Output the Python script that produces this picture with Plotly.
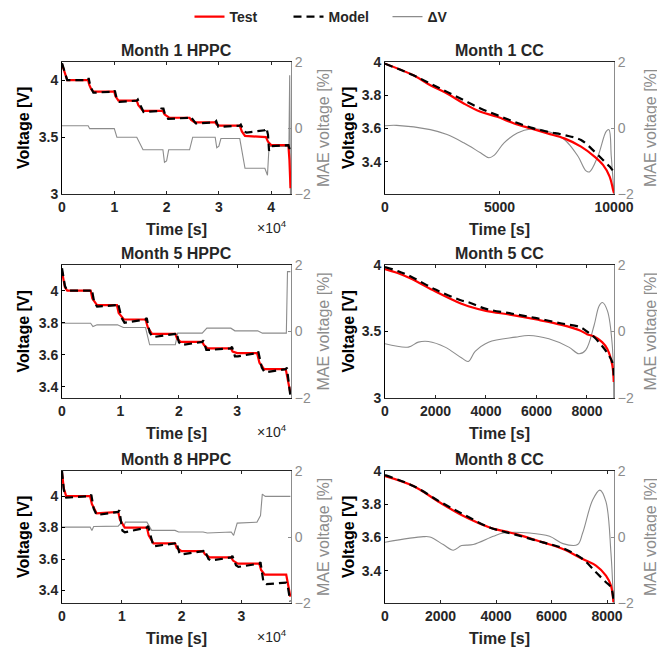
import plotly.graph_objects as go

# ------------------------------------------------------------------ data
panel_titles = ["Month 1 HPPC", "Month 1 CC", "Month 5 HPPC", "Month 5 CC", "Month 8 HPPC", "Month 8 CC"]

# Month 1 HPPC
m1h_test_t = [0, 800, 1000, 5000, 5200, 5600, 6000, 10000, 10200, 10800, 14300, 14600, 15500, 19300, 19600,
              20500, 24400, 24700, 25400, 29300, 29600, 30200, 34000, 34400, 35000, 39000, 39400, 40000,
              43300, 43500, 43700]
m1h_test_v = [4.14, 4.02, 4.00, 4.00, 3.96, 3.92, 3.90, 3.90, 3.86, 3.82, 3.82, 3.78, 3.73, 3.73, 3.70,
              3.67, 3.67, 3.65, 3.63, 3.63, 3.61, 3.60, 3.60, 3.55, 3.51, 3.50, 3.46, 3.43,
              3.43, 3.30, 3.05]
m1h_model_t = [0, 800, 1000, 5000, 5100, 5400, 5800, 6000, 10000, 10100, 10500, 11000, 14300, 14500, 15200,
               15600, 18800, 19000, 19400, 19700, 20300, 24400, 24600, 25200, 25600, 29300, 29500, 29900,
               30300, 34000, 34200, 34800, 35300, 38800, 39100, 39400, 39600, 40000, 43300, 43500, 43700]
m1h_model_v = [4.15, 4.02, 4.00, 4.00, 4.02, 3.95, 3.90, 3.89, 3.90, 3.91, 3.83, 3.81, 3.82, 3.83, 3.76,
               3.72, 3.73, 3.75, 3.75, 3.70, 3.66, 3.67, 3.68, 3.64, 3.62, 3.63, 3.64, 3.59,
               3.59, 3.60, 3.61, 3.55, 3.54, 3.56, 3.58, 3.52, 3.38, 3.42, 3.43, 3.40, 3.36]
m1h_dv_t = [0, 5000, 5300, 10000, 10500, 14300, 15500, 19300, 19600, 20000, 20400, 24400, 25000, 29300,
            29600, 30000, 30400, 34000, 35000, 38800, 39300, 39600, 43400, 43550, 43700]
m1h_dv_v = [0.07, 0.07, -0.02, -0.02, -0.28, -0.28, -0.66, -0.66, -1.04, -1.0, -0.66, -0.66, -0.28, -0.28,
            -0.6, -0.55, -0.32, -0.32, -1.22, -1.22, -1.43, -0.56, -0.56, 1.6, -2.0]

# Month 1 CC
m1c_t = [0, 1240, 1980, 2710, 3440, 4170, 4900, 5640, 6370, 7100, 7830, 8560, 9150, 9520, 9810, 9960, 10000]
m1c_test_v = [3.99, 3.92, 3.86, 3.81, 3.75, 3.70, 3.67, 3.63, 3.60, 3.57, 3.54, 3.49, 3.43, 3.38, 3.31, 3.23, 3.21]
m1c_model_v = [3.99, 3.92, 3.87, 3.82, 3.77, 3.72, 3.68, 3.64, 3.605, 3.58, 3.56, 3.53, 3.46, 3.41, 3.37, 3.345, 3.34]
m1c_dv_t = [0, 510, 1980, 2710, 3440, 4170, 4540, 4760, 5200, 5780, 6370, 7100, 7830, 8420, 8780, 8930,
            9300, 9660, 9780, 9880, 10000]
m1c_dv_v = [0.07, 0.08, -0.05, -0.2, -0.45, -0.75, -0.9, -0.83, -0.45, -0.15, -0.03, -0.1, -0.35, -0.85,
            -1.3, -1.33, -0.85, -0.1, -0.05, -0.85, -2.0]

# Month 5 HPPC
m5h_test_t = [0, 500, 900, 4900, 5200, 6000, 9400, 9700, 10600, 14300, 14700, 15400, 19400, 19700, 20300,
              24000, 24300, 24900, 28900, 29200, 30000, 33400, 33800, 34600, 38300, 38700, 39100]
m5h_test_v = [4.12, 4.02, 4.00, 4.00, 3.95, 3.91, 3.91, 3.86, 3.82, 3.82, 3.77, 3.73, 3.73, 3.70, 3.68,
              3.68, 3.66, 3.64, 3.64, 3.62, 3.61, 3.61, 3.55, 3.51, 3.51, 3.44, 3.36]
m5h_model_t = [0, 500, 900, 4900, 5100, 5500, 6000, 9400, 9600, 10200, 10700, 14300, 14500, 15000, 15500,
               19400, 19600, 20000, 20400, 24000, 24200, 24700, 25100, 28900, 29100, 29600, 30100, 33400,
               33600, 34200, 34700, 38300, 38500, 39000, 39100]
m5h_model_v = [4.14, 4.03, 4.00, 4.00, 4.01, 3.93, 3.90, 3.91, 3.92, 3.83, 3.80, 3.82, 3.83, 3.74, 3.71,
               3.73, 3.74, 3.68, 3.66, 3.68, 3.69, 3.63, 3.63, 3.64, 3.65, 3.59, 3.59, 3.61,
               3.62, 3.52, 3.49, 3.51, 3.52, 3.37, 3.34]
m5h_dv_t = [0, 4900, 5300, 6000, 9500, 10500, 14300, 15000, 19400, 19800, 24000, 24800, 28900, 29600,
            33500, 34300, 38400, 38600, 39100]
m5h_dv_v = [0.25, 0.25, 0.15, 0.2, 0.2, 0.12, 0.12, -0.4, -0.4, -0.05, -0.05, 0.1, 0.1, 0.02,
            0.02, -0.05, -0.05, 1.8, 1.8]

# Month 5 CC
m5c_t = [0, 500, 1000, 2000, 3000, 3300, 4000, 5000, 6000, 7000, 7700, 8000, 8300, 8600, 8800, 9000, 9060]
m5c_test_v = [3.97, 3.94, 3.90, 3.80, 3.71, 3.69, 3.655, 3.625, 3.59, 3.55, 3.51, 3.48, 3.46, 3.42, 3.37, 3.25, 3.12]
m5c_model_v = [3.985, 3.955, 3.915, 3.815, 3.735, 3.72, 3.67, 3.635, 3.60, 3.56, 3.535, 3.50, 3.455, 3.39, 3.34, 3.27, 3.17]
m5c_dv_t = [0, 925, 1320, 1720, 2380, 3040, 3300, 3570, 4100, 5170, 5700, 6490, 7280, 7680, 7950, 8280,
            8480, 8610, 8810, 9000, 9060]
m5c_dv_v = [-0.37, -0.47, -0.32, -0.3, -0.47, -0.8, -0.9, -0.6, -0.32, -0.17, -0.12, -0.22, -0.47, -0.67,
            -0.56, 0.18, 0.77, 0.87, 0.62, -0.4, -2.0]

# Month 8 HPPC
m8h_test_t = [0, 300, 700, 4700, 5000, 5800, 9400, 9700, 10500, 14200, 14500, 15300, 18900, 19200, 20000,
              23600, 23900, 24700, 28300, 28600, 29400, 33000, 33300, 33900, 37500, 37800, 38200]
m8h_test_v = [4.15, 4.05, 4.00, 4.00, 3.95, 3.89, 3.90, 3.85, 3.80, 3.80, 3.75, 3.70, 3.70, 3.67, 3.65,
              3.65, 3.63, 3.61, 3.61, 3.59, 3.57, 3.57, 3.53, 3.50, 3.50, 3.43, 3.36]
m8h_model_t = [0, 300, 700, 4700, 4900, 5300, 5800, 9400, 9600, 10100, 10500, 14200, 14400, 15000, 15300,
               18900, 19100, 19700, 20200, 23600, 23800, 24500, 24900, 28300, 28500, 29100, 29500, 33000,
               33200, 33700, 34200, 37500, 37700, 38000, 38200]
m8h_model_v = [4.16, 4.04, 3.99, 4.00, 4.01, 3.92, 3.88, 3.90, 3.91, 3.78, 3.77, 3.80, 3.81, 3.71, 3.68,
               3.70, 3.71, 3.63, 3.63, 3.65, 3.66, 3.60, 3.59, 3.61, 3.62, 3.56, 3.55, 3.57,
               3.58, 3.45, 3.44, 3.45, 3.44, 3.37, 3.33]
m8h_dv_t = [0, 4700, 5000, 5300, 9400, 10000, 10300, 10600, 14200, 15000, 18900, 19500, 23600, 24300,
            28300, 28700, 29300, 32600, 33200, 33500, 34000, 38200]
m8h_dv_v = [0.3, 0.3, 0.2, 0.32, 0.33, 0.45, 0.3, 0.45, 0.45, 0.2, 0.2, 0.15, 0.15, 0.12,
            0.15, 0.05, 0.42, 0.45, 0.65, 1.3, 1.23, 1.23]

# Month 8 CC
m8c_t = [0, 1020, 1980, 2810, 3770, 4730, 5690, 6410, 7120, 7600, 7960, 8140, 8230]
m8c_test_v = [3.97, 3.91, 3.81, 3.73, 3.66, 3.62, 3.57, 3.53, 3.47, 3.43, 3.37, 3.31, 3.21]
m8c_model_v = [3.975, 3.91, 3.815, 3.74, 3.66, 3.615, 3.57, 3.535, 3.47, 3.39, 3.33, 3.30, 3.22]
m8c_dv_t = [0, 1380, 1620, 2100, 2460, 2760, 3180, 3900, 4260, 5210, 5930, 6410, 6940, 7120, 7480, 7740,
            7960, 8140, 8230]
m8c_dv_v = [-0.16, 0.01, 0.0, -0.23, -0.4, -0.26, -0.23, 0.02, 0.12, 0.12, 0.02, -0.2, -0.23, 0.12, 1.12,
            1.42, 1.07, -0.48, -2.0]

# tick values / labels
hppc_xticks = [0, 10000, 20000, 30000, 40000]
hppc_xticktext = ["0", "1", "2", "3", "4"]
cc1_xticks = [0, 5000, 10000]
cc1_xticktext = ["0", "5000", "10000"]
cc58_xticks = [0, 2000, 4000, 6000, 8000]
cc58_xticktext = ["0", "2000", "4000", "6000", "8000"]
mae_ticks = [-2, 0, 2]

# ------------------------------------------------------------------ styling
OFF = 8                       # page offset of the plot div inside the browser window
W, H = 665 - OFF, 650 - OFF
FONT = "Liberation Sans, Arial, sans-serif"
RED = "#ff0000"
BLACK = "#000000"
GREY = "#8c8c8c"
AXC = "#262626"

col_px = [(62, 291), (385, 614)]
row_px = [(62, 194), (265, 398), (471, 603)]


def px_x(X):
    return (X - OFF) / W


def px_y(Y):
    return 1 - (Y - OFF) / H


panels = [
    dict(test=(m1h_test_t, m1h_test_v), model=(m1h_model_t, m1h_model_v), dv=(m1h_dv_t, m1h_dv_v),
         xr=[0, 43800], xt=hppc_xticks, xtt=hppc_xticktext, yr=[3.0, 4.16], yt=[3, 3.5, 4], sci=True, cc=False),
    dict(test=(m1c_t, m1c_test_v), model=(m1c_t, m1c_model_v), dv=(m1c_dv_t, m1c_dv_v),
         xr=[0, 10000], xt=cc1_xticks, xtt=cc1_xticktext, yr=[3.205, 4.0], yt=[3.4, 3.6, 3.8, 4], sci=False, cc=True),
    dict(test=(m5h_test_t, m5h_test_v), model=(m5h_model_t, m5h_model_v), dv=(m5h_dv_t, m5h_dv_v),
         xr=[0, 39200], xt=hppc_xticks[:4], xtt=hppc_xticktext[:4], yr=[3.33, 4.16], yt=[3.4, 3.6, 3.8, 4], sci=True, cc=False),
    dict(test=(m5c_t, m5c_test_v), model=(m5c_t, m5c_model_v), dv=(m5c_dv_t, m5c_dv_v),
         xr=[0, 9070], xt=cc58_xticks, xtt=cc58_xticktext, yr=[3.0, 4.0], yt=[3, 3.5, 4], sci=False, cc=True),
    dict(test=(m8h_test_t, m8h_test_v), model=(m8h_model_t, m8h_model_v), dv=(m8h_dv_t, m8h_dv_v),
         xr=[0, 38300], xt=hppc_xticks[:4], xtt=hppc_xticktext[:4], yr=[3.32, 4.16], yt=[3.4, 3.6, 3.8, 4], sci=True, cc=False),
    dict(test=(m8c_t, m8c_test_v), model=(m8c_t, m8c_model_v), dv=(m8c_dv_t, m8c_dv_v),
         xr=[0, 8250], xt=cc58_xticks, xtt=cc58_xticktext, yr=[3.205, 4.0], yt=[3.4, 3.6, 3.8, 4], sci=False, cc=True),
]

fig = go.Figure()
layout = {}
annotations = []

tickfont = dict(family=FONT, size=14, color=AXC, weight="bold")
tickfont_r = dict(family=FONT, size=14, color=GREY)

for i, p in enumerate(panels):
    r, c = divmod(i, 2)
    x0, x1 = col_px[c]
    top, bot = row_px[r]
    xdom = [px_x(x0), px_x(x1)]
    ydom = [px_y(bot), px_y(top)]
    xs = "" if i == 0 else str(i + 1)
    yb = "" if i == 0 else str(i + 1)
    yo = str(i + 7)
    shape = "spline" if p["cc"] else "linear"

    fig.add_trace(go.Scatter(x=p["test"][0], y=p["test"][1], xaxis="x" + xs, yaxis="y" + yo, mode="lines",
                             line=dict(color=RED, width=2.2, shape=shape), name="Test", legendgroup="test",
                             showlegend=(i == 0)))
    fig.add_trace(go.Scatter(x=p["model"][0], y=p["model"][1], xaxis="x" + xs, yaxis="y" + yo, mode="lines",
                             line=dict(color=BLACK, width=2.2, dash="8px,5px", shape=shape), name="Model",
                             legendgroup="model", showlegend=(i == 0)))
    fig.add_trace(go.Scatter(x=p["dv"][0], y=p["dv"][1], xaxis="x" + xs, yaxis="y" + yb, mode="lines",
                             line=dict(color=GREY, width=1.1, shape=shape), name="ΔV",
                             legendgroup="dv", showlegend=(i == 0)))

    layout["xaxis" + xs] = dict(domain=xdom, anchor="y" + yb, range=p["xr"], tickvals=p["xt"],
                                ticktext=p["xtt"], showgrid=False, zeroline=False,
                                showline=True, linecolor=AXC, linewidth=1, mirror="ticks", ticks="inside",
                                ticklen=3, tickcolor=AXC, tickfont=tickfont)
    layout["yaxis" + yb] = dict(domain=ydom, anchor="x" + xs, side="right", range=[-2, 2], tickvals=mae_ticks,
                                showgrid=False, zeroline=False, showline=True, linecolor=GREY, linewidth=1,
                                ticks="inside", ticklen=3, tickcolor=GREY, tickfont=tickfont_r)
    layout["yaxis" + yo] = dict(domain=ydom, anchor="x" + xs, overlaying="y" + yb, side="left", range=p["yr"],
                                tickvals=p["yt"], showgrid=False, zeroline=False, showline=True,
                                linecolor=BLACK, linewidth=1, ticks="inside", ticklen=3, tickcolor=BLACK,
                                tickfont=tickfont)

    cx = px_x((x0 + x1) / 2)
    annotations.append(dict(text=panel_titles[i], x=cx, y=px_y(top - 12), xref="paper", yref="paper",
                            showarrow=False, xanchor="center", yanchor="middle",
                            font=dict(family=FONT, size=16, color=AXC, weight="bold")))
    annotations.append(dict(text="Time [s]", x=cx, y=px_y(bot + 35), xref="paper", yref="paper",
                            showarrow=False, xanchor="center", yanchor="middle",
                            font=dict(family=FONT, size=16, color=AXC, weight="bold")))
    if p["sci"]:
        annotations.append(dict(text="×10<sup>4</sup>", x=px_x(x1 - 2), y=px_y(bot + 33), xref="paper",
                                yref="paper", showarrow=False, xanchor="right", yanchor="middle",
                                font=dict(family=FONT, size=14, color=AXC)))
    vx = 23 if c == 0 else 348
    mx = 323 if c == 0 else 650
    cy = px_y((top + bot) / 2)
    annotations.append(dict(text="Voltage [V]", x=px_x(vx), y=cy, xref="paper", yref="paper", showarrow=False,
                            textangle=-90, xanchor="center", yanchor="middle",
                            font=dict(family=FONT, size=16, color=BLACK, weight="bold")))
    annotations.append(dict(text="MAE voltage [%]", x=px_x(mx), y=cy, xref="paper", yref="paper",
                            showarrow=False, textangle=-90, xanchor="center", yanchor="middle",
                            font=dict(family=FONT, size=16, color=GREY)))

fig.update_layout(
    width=W, height=H,
    margin=dict(l=0, r=0, t=0, b=0, autoexpand=False),
    paper_bgcolor="white", plot_bgcolor="white",
    font=dict(family=FONT, size=14, color=AXC),
    showlegend=True,
    legend=dict(orientation="h", x=px_x(338), xanchor="center", y=1.0 + 7 / H, yanchor="top",
                xref="paper", yref="paper",
                font=dict(family=FONT, size=14, color=AXC, weight="bold"),
                bgcolor="rgba(255,255,255,0)", entrywidth=54, entrywidthmode="pixels"),
    annotations=annotations,
    **layout,
)

fig.write_html("out.html")
